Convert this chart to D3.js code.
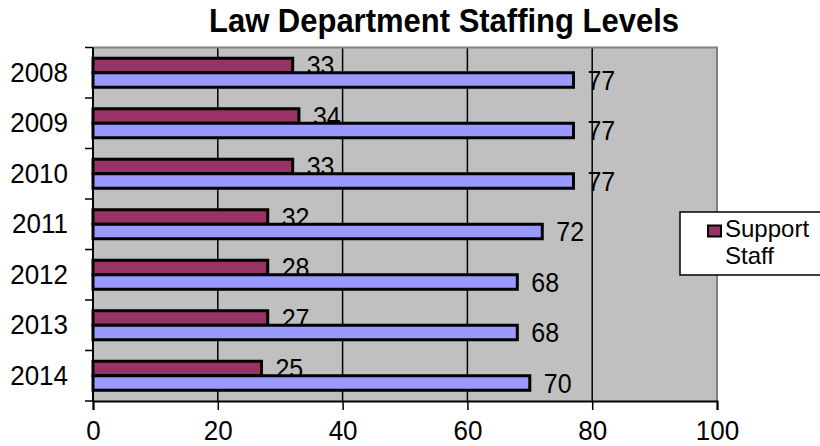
<!DOCTYPE html>
<html><head><meta charset="utf-8">
<script src="https://cdn.jsdelivr.net/npm/d3@7"></script>
<style>body{margin:0;background:#fff}svg{display:block;font-family:"Liberation Sans",Arial,sans-serif}</style>
</head><body><svg id="c" width="820" height="446"></svg>
<script>
const years = ["2008","2009","2010","2011","2012","2013","2014"];
const supportValues = [32,33,32,28,28,28,27];
const supportLabels = ["33","34","33","32","28","27","25"];
const attorneyValues = [77,77,77,72,68,68,70];
const attorneyLabels = ["77","77","77","72","68","68","70"];
const xTicks = [0,20,40,60,80,100];
const seriesNames = ["Support Staff","Attorneys"];

const svg = d3.select("#c");
const L=93, R=717, T=47.5, B=401;
const SY=1.08;
const x = d3.scaleLinear().domain([0,100]).range([L,R]);
const y = d3.scaleBand().domain(years).range([T,B]).paddingInner(0);
const ys = d3.scaleBand().domain(["s","a"]).range([0,y.bandwidth()]).paddingInner(0).paddingOuter(0.74);

svg.append("rect").attr("x",L).attr("y",T).attr("width",R-L).attr("height",B-T).attr("fill","#c0c0c0");
svg.append("g").selectAll("line").data(xTicks.filter(d=>d>0&&d<100)).join("line")
  .attr("x1",d=>x(d)).attr("x2",d=>x(d)).attr("y1",T).attr("y2",B)
  .attr("stroke","#000").attr("stroke-width",1.5);
svg.append("path").attr("d",`M${L},${T}H${R}V${B}`).attr("fill","none").attr("stroke","#808080").attr("stroke-width",2);

const sw=3;
function labels(vals, labs, key){
  svg.append("g").selectAll("text").data(years).join("text")
    .attr("transform",(d,i)=>`translate(${x(vals[i])+14},${y(d)+ys(key)+ys.bandwidth()/2}) scale(1,${SY})`)
    .attr("dy","0.36em").attr("font-size",25).text((d,i)=>labs[i]);
}
function bars(vals, key, color){
  svg.append("g").selectAll("rect").data(years).join("rect")
    .attr("x",x(0)).attr("y",d=>y(d)+ys(key))
    .attr("width",(d,i)=>x(vals[i])-x(0)).attr("height",ys.bandwidth())
    .attr("fill",color).attr("stroke","#000").attr("stroke-width",sw);
}
bars(supportValues,"s","#993366");
labels(supportValues,supportLabels,"s");
bars(attorneyValues,"a","#9999ff");
labels(attorneyValues,attorneyLabels,"a");

const ga = svg.append("g").attr("transform",`translate(${L},0)`)
  .call(d3.axisLeft(y).tickSize(0).tickPadding(25));
ga.select(".domain").remove();
ga.selectAll("text").attr("font-size",26).attr("fill","#000").attr("font-family",'"Liberation Sans",Arial,sans-serif')
  .attr("transform",`scale(1,${SY})`);
const bounds = years.map(d=>y(d)).concat([y(years[years.length-1])+y.bandwidth()]);
svg.append("g").selectAll("line").data(bounds).join("line")
  .attr("x1",L-8).attr("x2",L).attr("y1",d=>d).attr("y2",d=>d).attr("stroke","#000").attr("stroke-width",1.5);
svg.append("line").attr("x1",L).attr("x2",L).attr("y1",T).attr("y2",B).attr("stroke","#000").attr("stroke-width",2);

const gb = svg.append("g").attr("transform",`translate(0,${B})`)
  .call(d3.axisBottom(x).tickValues(xTicks).tickSize(9).tickPadding(9));
gb.select(".domain").attr("stroke","#000").attr("stroke-width",2);
gb.selectAll(".tick line").attr("stroke-width",1.5);
gb.selectAll("text").attr("font-size",26).attr("fill","#000").attr("font-family",'"Liberation Sans",Arial,sans-serif')
  .attr("transform",`scale(1,${SY})`);

svg.append("text").attr("transform",`translate(444,32) scale(1,${SY})`).attr("text-anchor","middle")
  .attr("font-size",31).attr("font-weight","bold").text("Law Department Staffing Levels");

const lg = svg.append("g");
lg.append("rect").attr("x",680).attr("y",212).attr("width",150).attr("height",63)
  .attr("fill","#fff").attr("stroke","#000").attr("stroke-width",1.5);
lg.append("rect").attr("x",708).attr("y",225.5).attr("width",13).attr("height",11)
  .attr("fill","#993366").attr("stroke","#000").attr("stroke-width",2);
const lt = lg.append("text").attr("font-size",24);
const words = seriesNames[0].split(" ");
lt.append("tspan").attr("x",725).attr("y",237).text(words[0]);
lt.append("tspan").attr("x",725).attr("y",264).text(words[1]);
</script></body></html>
